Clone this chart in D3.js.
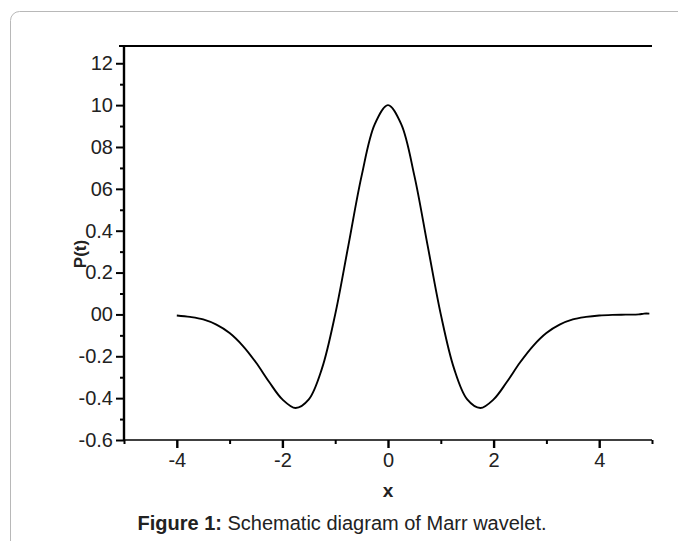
<!DOCTYPE html>
<html>
<head>
<meta charset="utf-8">
<script src="https://cdn.jsdelivr.net/npm/d3@7"></script>
<style>
  html, body { margin: 0; padding: 0; background: #fff; }
  svg { display: block; }
</style>
</head>
<body>
<svg id="chart" width="678" height="541"></svg>
<script>
// ---- data ----
const xs = [-4.0, -3.75, -3.5, -3.25, -3.0, -2.75, -2.5, -2.25, -2.0, -1.75, -1.5, -1.25, -1.0, -0.75, -0.5, -0.25, 0.0,
            0.25, 0.5, 0.75, 1.0, 1.25, 1.5, 1.75, 2.0, 2.25, 2.5, 2.75, 3.0, 3.25, 3.5, 3.75, 4.0, 4.25, 4.5, 4.75, 4.85, 4.95];
const ys = [-0.005, -0.012, -0.024, -0.049, -0.089, -0.15, -0.23, -0.323, -0.406, -0.447, -0.406, -0.258, 0.0, 0.33, 0.662, 0.909, 1.0,
            0.909, 0.662, 0.33, 0.0, -0.258, -0.406, -0.447, -0.406, -0.323, -0.23, -0.15, -0.089, -0.049, -0.024, -0.012, -0.005, -0.002, -0.001, 0.0, 0.004, 0.004];
const yTickValues = [1.2, 1.0, 0.8, 0.6, 0.4, 0.2, 0.0, -0.2, -0.4, -0.6];
const yTickLabels = ["12", "10", "08", "06", "0.4", "0.2", "00", "-0.2", "-0.4", "-0.6"];
const yMinorTicks = [1.1, 0.9, 0.7, 0.5, 0.3, 0.1, -0.1, -0.3, -0.5];
const xTickValues = [-4, -2, 0, 2, 4];
const xTickLabels = ["-4", "-2", "0", "2", "4"];
const xMinorTicks = [-5, -3, -1, 1, 3, 5];
const yTitle = "P(t)";
const xTitle = "x";
const captionBold = "Figure 1:";
const captionText = " Schematic diagram of Marr wavelet.";

const svg = d3.select("#chart");
const font = "'Liberation Sans', Arial, sans-serif";

// card frame
svg.append("rect")
  .attr("x", 10.5).attr("y", 11.5)
  .attr("width", 720).attr("height", 600)
  .attr("rx", 9).attr("ry", 9)
  .attr("fill", "#fff").attr("stroke", "#b8b8b8").attr("stroke-width", 1);

const pLeft = 124, pRight = 652, pTop = 46, pBottom = 440;
const x = d3.scaleLinear().domain([-5, 5]).range([pLeft, pRight]);
const y = d3.scaleLinear().domain([-0.6, 1.2825]).range([pBottom, pTop]);

// top frame line
svg.append("line")
  .attr("x1", pLeft - 5).attr("x2", pRight).attr("y1", pTop).attr("y2", pTop)
  .attr("stroke", "#000").attr("stroke-width", 2.2);

// y axis
const yAxis = svg.append("g").attr("transform", `translate(${pLeft},0)`)
  .call(d3.axisLeft(y).tickValues(yTickValues).tickSize(8).tickPadding(3)
        .tickFormat((d, i) => yTickLabels[i]));
yAxis.select(".domain").attr("stroke-width", 2.4).attr("d", `M0,${pTop}V${pBottom}`);
yAxis.selectAll(".tick line").attr("stroke-width", 2);
yAxis.selectAll(".tick text").attr("font-family", font).attr("font-size", 20).attr("fill", "#222");
svg.append("g").attr("transform", `translate(${pLeft},0)`)
  .call(d3.axisLeft(y).tickValues(yMinorTicks).tickSize(4).tickFormat(""))
  .call(g => g.select(".domain").remove())
  .selectAll(".tick line").attr("stroke-width", 2);

// x axis
const xAxis = svg.append("g").attr("transform", `translate(0,${pBottom})`)
  .call(d3.axisBottom(x).tickValues(xTickValues).tickSize(8).tickPadding(5)
        .tickFormat((d, i) => xTickLabels[i]));
xAxis.select(".domain").attr("stroke-width", 1.6).attr("d", `M${pLeft},0H${pRight}`);
xAxis.selectAll(".tick line").attr("stroke-width", 2.4);
xAxis.selectAll(".tick text").attr("font-family", font).attr("font-size", 20).attr("fill", "#222");
svg.append("g").attr("transform", `translate(0,${pBottom})`)
  .call(d3.axisBottom(x).tickValues(xMinorTicks).tickSize(4).tickFormat(""))
  .call(g => g.select(".domain").remove())
  .selectAll(".tick line").attr("stroke-width", 2);

// curve
const pts = xs.map((v, i) => [v, ys[i]]);
svg.append("path")
  .datum(pts)
  .attr("fill", "none")
  .attr("stroke", "#000")
  .attr("stroke-width", 1.9)
  .attr("d", d3.line().x(d => x(d[0])).y(d => y(d[1])).curve(d3.curveCatmullRom));

// titles
svg.append("text")
  .attr("transform", `translate(86,254) rotate(-90)`)
  .attr("text-anchor", "middle")
  .attr("font-family", font).attr("font-size", 17).attr("font-weight", "bold").attr("fill", "#222")
  .text(yTitle);
svg.append("text")
  .attr("x", x(0)).attr("y", 497)
  .attr("text-anchor", "middle")
  .attr("font-family", font).attr("font-size", 19).attr("font-weight", "bold").attr("fill", "#222")
  .text(xTitle);
const cap = svg.append("text")
  .attr("x", 342).attr("y", 530)
  .attr("text-anchor", "middle")
  .attr("font-family", font).attr("font-size", 20).attr("fill", "#222");
cap.append("tspan").attr("font-weight", "bold").text(captionBold);
cap.append("tspan").text(captionText);
</script>
</body>
</html>
